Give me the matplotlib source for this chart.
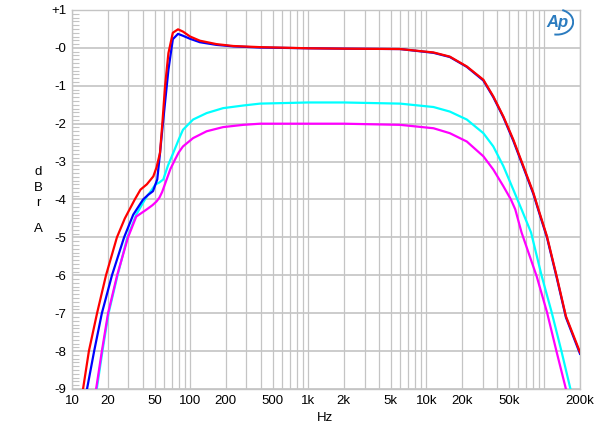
import numpy as np
import matplotlib
matplotlib.use("Agg")
import matplotlib.pyplot as plt
from matplotlib.patches import Arc
from matplotlib.ticker import FixedLocator, NullFormatter

plt.rcParams['font.family'] = ['Liberation Sans', 'DejaVu Sans']

# --- datos (Hz, dBr) ---
red_hz = [12.4, 13.9, 16.3, 19.4, 24, 28, 34, 38, 43, 48.8, 52, 55.6, 58.5, 61.3, 65.5,
          71.4, 79, 87, 100, 121, 167, 232, 391, 1000, 2000, 6000, 11500, 15800,
          22000, 30400, 36900, 44900, 54500, 66300, 80500, 89000, 105000, 127000,
          152000, 200000]
red_db = [-9.0, -8.0, -7.0, -6.0, -5.0, -4.5, -4.0, -3.74, -3.6, -3.39, -3.15, -2.77,
          -1.9, -1.02, -0.14, 0.4, 0.49, 0.43, 0.3, 0.19, 0.1, 0.05, 0.02, -0.01,
          -0.02, -0.03, -0.12, -0.23, -0.49, -0.84, -1.28, -1.81, -2.42, -3.12, -3.82,
          -4.26, -4.97, -6.03, -7.08, -8.03]

blue_hz = [13.4, 15.4, 17.9, 21.8, 27.6, 33, 40, 44, 48.5, 52.7, 55.5, 59.3, 65.5, 71.4,
           79, 87, 100, 121, 167, 232, 391, 1000, 2000, 6000, 11500, 15800, 22000,
           30400, 36900, 44900, 54500, 66300, 80500, 89000, 105000, 127000, 152000,
           200000]
blue_db = [-9.0, -8.0, -7.0, -6.0, -5.0, -4.4, -4.0, -3.88, -3.78, -3.47, -2.8, -1.89,
           -0.58, 0.23, 0.37, 0.32, 0.24, 0.15, 0.08, 0.04, 0.01, -0.01, -0.02, -0.03,
           -0.13, -0.24, -0.5, -0.86, -1.3, -1.83, -2.45, -3.15, -3.85, -4.29, -5.0,
           -6.06, -7.11, -8.07]

cyan_hz = [16.2, 18.1, 20.4, 24.3, 29.4, 35, 40, 43, 47, 51, 55, 59.3, 65, 72, 80, 87,
           106, 138, 190, 282, 391, 1000, 2000, 6000, 11500, 15800, 22000, 30400,
           36900, 44900, 54500, 64000, 77000, 95000, 115000, 140000, 166000]
cyan_db = [-9.0, -8.0, -7.0, -6.0, -5.0, -4.4, -4.08, -3.92, -3.76, -3.6, -3.55, -3.47,
           -3.1, -2.77, -2.42, -2.16, -1.89, -1.72, -1.59, -1.52, -1.47, -1.44, -1.44,
           -1.47, -1.56, -1.68, -1.89, -2.25, -2.6, -3.12, -3.74, -4.26, -4.87, -6.03,
           -6.97, -8.03, -9.0]

magenta_hz = [16, 17.9, 20.2, 24.1, 29.8, 35, 43, 48, 52, 55, 58, 63.3, 68, 74.4, 80,
              87, 106, 138, 190, 282, 391, 1000, 2000, 6000, 11500, 15800, 22000,
              30400, 36900, 44900, 52000, 56600, 64000, 86000, 105000, 127000, 152000]
magenta_db = [-9.0, -8.0, -7.0, -6.0, -5.0, -4.45, -4.26, -4.15, -4.05, -3.95, -3.8,
              -3.47, -3.2, -2.95, -2.76, -2.6, -2.38, -2.2, -2.09, -2.03, -2.0, -2.0,
              -2.0, -2.03, -2.12, -2.25, -2.47, -2.86, -3.21, -3.65, -4.0, -4.26,
              -4.87, -6.03, -6.97, -8.03, -9.0]

x_ticks = [10, 20, 50, 100, 200, 500, 1000, 2000, 5000, 10000, 20000, 50000, 200000]
x_labels = ["10", "20", "50", "100", "200", "500", "1k", "2k", "5k", "10k", "20k",
            "50k", "200k"]
y_ticks = [1, 0, -1, -2, -3, -4, -5, -6, -7, -8, -9]
y_labels = ["+1", "-0", "-1", "-2", "-3", "-4", "-5", "-6", "-7", "-8", "-9"]

GRID = "#c4c4c4"

fig = plt.figure(figsize=(6.0, 4.37), dpi=100)
ax = fig.add_axes([72 / 600, 48 / 437, 508 / 600, 379 / 437])

# lineas de rejilla verticales (1..9 por decada)
grid_x = [m * 10 ** d for d in range(1, 6) for m in range(1, 10) if m * 10 ** d <= 200000]
for gx in grid_x:
    ax.axvline(gx, color=GRID, lw=0.9, zorder=1)
for gy in y_ticks:
    ax.axhline(gy, color=GRID, lw=1.2, zorder=1)

ax.plot(cyan_hz, cyan_db, color="#00ffff", lw=1.6, zorder=3)
ax.plot(magenta_hz, magenta_db, color="#ff00ff", lw=1.6, zorder=4)
ax.plot(blue_hz, blue_db, color="#0000ff", lw=1.6, zorder=5)
ax.plot(red_hz, red_db, color="#ff0000", lw=1.6, zorder=6)

ax.set_xscale("log")
ax.set_xlim(10, 200000)
ax.set_ylim(-9, 1)
ax.xaxis.set_major_locator(FixedLocator(x_ticks))
ax.xaxis.set_minor_locator(FixedLocator([]))
ax.xaxis.set_minor_formatter(NullFormatter())
ax.set_xticks(x_ticks)
ax.set_xticklabels(x_labels, fontsize=9.5)
ax.set_yticks(y_ticks)
ax.set_yticklabels(y_labels, fontsize=9.5)
ax.yaxis.set_minor_locator(FixedLocator(np.arange(-9, 1.01, 0.1)))
ax.tick_params(axis="both", which="major", length=0, pad=4)
ax.tick_params(axis="y", which="minor", direction="in", length=5, color=GRID, width=0.8)
for s in ax.spines.values():
    s.set_color(GRID)
    s.set_linewidth(1.0)

# etiquetas de ejes
fig.text(325 / 600, 1 - 418 / 437, "Hz", ha="center", va="center", fontsize=9.5)
for letra, ypx in zip(["d", "B", "r", "A"], [172, 188, 203, 229]):
    fig.text(38 / 600, 1 - ypx / 437, letra, ha="center", va="center", fontsize=9.5)

# logo Ap
AP = "#2a7bbf"
fig.text(557 / 600, 1 - 22 / 437, "Ap", ha="center", va="center", fontsize=12,
         color=AP, style="italic", fontweight="bold")
logo = fig.add_axes([540 / 600, 1 - 36 / 437, 34 / 600, 28 / 437])
logo.set_xlim(0, 1)
logo.set_ylim(0, 1)
logo.axis("off")
logo.add_patch(Arc((0.5, 0.5), 0.95, 0.9, theta1=-100, theta2=70, color=AP, lw=1.4))

fig.savefig("out.png", dpi=100)
